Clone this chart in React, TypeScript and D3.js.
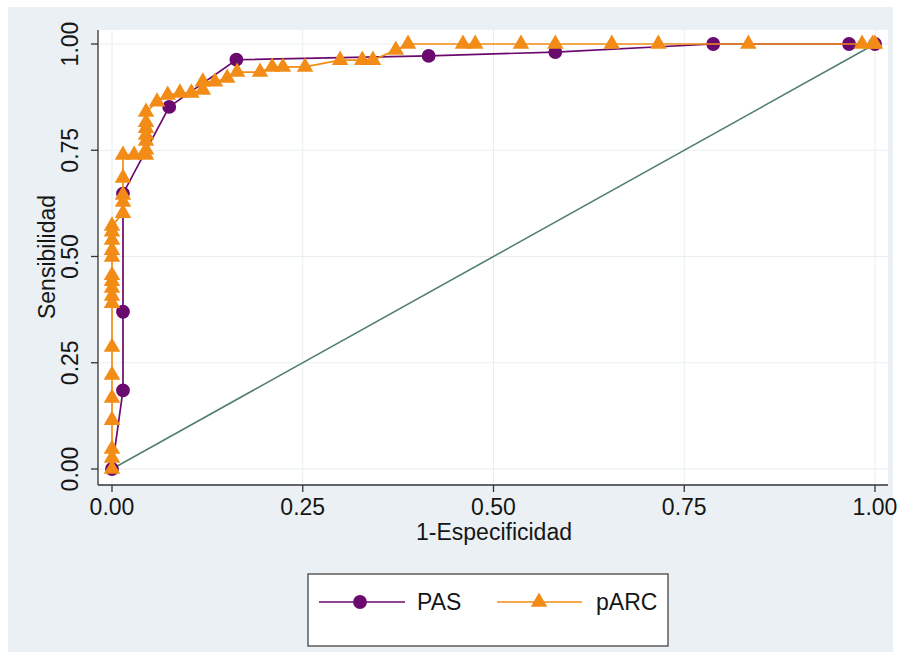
import React from "react";
import * as d3 from "d3";

const ticks = [0, 0.25, 0.5, 0.75, 1];
const tickLabels = ["0.00", "0.25", "0.50", "0.75", "1.00"];

const pasX = [0, 0.0144, 0.0144, 0.0144, 0.075, 0.163, 0.415, 0.581, 0.788, 0.966, 1];
const pasY = [0, 0.185, 0.37, 0.648, 0.852, 0.963, 0.972, 0.981, 1, 1, 1];

const parcX = [
  0, 0, 0, 0, 0, 0, 0, 0, 0, 0, 0, 0, 0, 0, 0, 0, 0,
  0.0144, 0.0144, 0.0144, 0.0144, 0.0144,
  0.029, 0.0446, 0.0446, 0.0446, 0.0446, 0.0446, 0.0446, 0.0446,
  0.059, 0.073, 0.089, 0.104, 0.119, 0.119, 0.135, 0.151, 0.164, 0.194,
  0.21, 0.224, 0.253, 0.299, 0.328, 0.342, 0.372, 0.388,
  0.46, 0.476, 0.536, 0.581, 0.655, 0.716, 0.834, 0.983, 0.997, 1,
];
const parcY = [
  0, 0.026, 0.047, 0.115, 0.167, 0.221, 0.287, 0.39, 0.407, 0.426, 0.442, 0.456, 0.499, 0.515, 0.539, 0.558, 0.572,
  0.602, 0.628, 0.645, 0.685, 0.739,
  0.739, 0.739, 0.751, 0.772, 0.786, 0.802, 0.816, 0.84,
  0.864, 0.88, 0.885, 0.885, 0.892, 0.911, 0.911, 0.92, 0.934, 0.934,
  0.946, 0.946, 0.946, 0.962, 0.962, 0.962, 0.986, 1,
  1, 1, 1, 1, 1, 1, 1, 1, 1, 1,
];

const seriesNames = ["PAS", "pARC"];
const PURPLE = "#6b0a6e";
const ORANGE = "#f28c16";
const FONT = "'Liberation Sans', Arial, sans-serif";
const TEXT = "#161616";

export default function App() {
  const x = d3.scaleLinear().domain([0, 1]).range([112, 875]);
  const y = d3.scaleLinear().domain([0, 1]).range([469, 44]);
  const line = d3.line<[number, number]>().x((d) => x(d[0])).y((d) => y(d[1]));
  const pas: [number, number][] = pasX.map((v, i) => [v, pasY[i]]);
  const parc: [number, number][] = parcX.map((v, i) => [v, parcY[i]]);
  const tri = d3.symbol().type(d3.symbolTriangle).size(118)() as string;
  const circ = d3.symbol().type(d3.symbolCircle).size(150)() as string;

  const plotL = 98, plotR = 888, plotT = 30, plotB = 485;

  return (
    <svg
      width={899}
      height={658}
      style={{ position: "absolute", left: 0, top: 0 }}
      fontFamily={FONT}
    >
      <rect x={0} y={0} width={899} height={658} fill="#ffffff" />
      <rect x={8} y={7} width={885} height={645} fill="#eaf0f3" />
      <rect x={plotL} y={plotT} width={plotR - plotL} height={plotB - plotT} fill="#ffffff" />
      {ticks.map((t) => (
        <g key={"g" + t}>
          <line x1={plotL} x2={plotR} y1={y(t)} y2={y(t)} stroke="#e7eef1" strokeWidth={1} />
          <line x1={x(t)} x2={x(t)} y1={plotT} y2={plotB} stroke="#e7eef1" strokeWidth={1} />
        </g>
      ))}
      {/* reference diagonal */}
      <line x1={x(0)} y1={y(0)} x2={x(1)} y2={y(1)} stroke="#52806e" strokeWidth={1.6} />
      {/* PAS */}
      <path d={line(pas) as string} fill="none" stroke={PURPLE} strokeWidth={1.7} />
      {pas.map((d, i) => (
        <path key={"p" + i} d={circ} transform={`translate(${x(d[0])},${y(d[1])})`} fill={PURPLE} />
      ))}
      {/* pARC */}
      <path d={line(parc) as string} fill="none" stroke={ORANGE} strokeWidth={1.7} />
      {parc.map((d, i) => (
        <path key={"a" + i} d={tri} transform={`translate(${x(d[0])},${y(d[1])})`} fill={ORANGE} />
      ))}
      {/* axes */}
      <line x1={plotL} x2={plotL} y1={plotT} y2={plotB} stroke="#333" strokeWidth={1.3} />
      <line x1={plotL} x2={plotR} y1={plotB} y2={plotB} stroke="#333" strokeWidth={1.3} />
      {ticks.map((t, i) => (
        <g key={"t" + t}>
          <line x1={plotL - 7} x2={plotL} y1={y(t)} y2={y(t)} stroke="#333" strokeWidth={1.3} />
          <text
            transform={`translate(78,${y(t)}) rotate(-90)`}
            textAnchor="middle"
            fontSize={23}
            fill={TEXT}
          >
            {tickLabels[i]}
          </text>
          <line x1={x(t)} x2={x(t)} y1={plotB} y2={plotB + 7} stroke="#333" strokeWidth={1.3} />
          <text x={x(t)} y={515} textAnchor="middle" fontSize={23} fill={TEXT}>
            {tickLabels[i]}
          </text>
        </g>
      ))}
      <text x={494} y={540} textAnchor="middle" fontSize={23} fill={TEXT}>
        1-Especificidad
      </text>
      <text transform={`translate(55,257) rotate(-90)`} textAnchor="middle" fontSize={23} fill={TEXT}>
        Sensibilidad
      </text>
      {/* legend */}
      <rect x={308} y={574} width={360} height={72} fill="#ffffff" stroke="#444" strokeWidth={1.3} />
      <line x1={319} x2={405} y1={602} y2={602} stroke={PURPLE} strokeWidth={1.7} />
      <path d={circ} transform="translate(360,602)" fill={PURPLE} />
      <text x={417} y={610} fontSize={23} fill={TEXT}>{seriesNames[0]}</text>
      <line x1={497} x2={582} y1={602} y2={602} stroke={ORANGE} strokeWidth={1.7} />
      <path d={tri} transform="translate(539,602)" fill={ORANGE} />
      <text x={596} y={610} fontSize={23} fill={TEXT}>{seriesNames[1]}</text>
    </svg>
  );
}
